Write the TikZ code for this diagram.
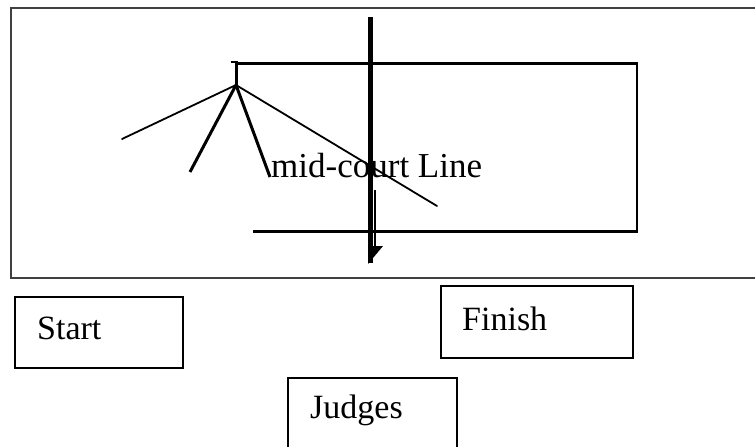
\documentclass[tikz,border=0pt]{standalone}
\usepackage{fontspec}
\setmainfont{Liberation Serif}
\begin{document}
\begin{tikzpicture}[x=1pt,y=-1pt,
  frame/.style={draw=black!75,line width=2pt},
  court/.style={draw=black,line width=2.8pt},
  thinline/.style={draw=black,line width=1.8pt,line cap=round},
  legline/.style={draw=black,line width=3pt},
  boxside/.style={draw=black,line width=1.8pt},
  lbl/.style={anchor=base west,inner sep=0pt,font=\fontsize{34}{40}\selectfont}]
\useasboundingbox (0,0) rectangle (755,447);
% outer frame (open on the right)
\draw[frame] (755,7.5) -- (11,7.5) -- (11,277.5) -- (755,277.5);
% court rectangle
\coordinate (ct) at (236,63.5);
\coordinate (cr) at (637,63.5);
\coordinate (cb) at (637,231.5);
\coordinate (cl) at (253,231.5);
\draw[court] (ct) -- (cr) -- (cb) -- (cl);
% post with apex
\coordinate (postTop) at (236,62);
\coordinate (apex) at (236,85);
\draw[line width=3pt] (postTop) -- (apex);
\draw[line width=2pt] (231,62) -- (238,62);
% legs
\coordinate (l1) at (122,139);
\coordinate (l2) at (190,172);
\coordinate (l3) at (270,177);
\coordinate (l4) at (437,206);
\draw[thinline] (apex) -- (l1);
\draw[legline] (apex) -- (l2);
\draw[legline] (apex) -- (l3);
\draw[thinline] (apex) -- (l4);
% mid-court label
\node[lbl,font=\fontsize{35}{40}\selectfont] (mid) at (271,177) {mid-court Line};
% thick vertical line
\coordinate (vTop) at (370.5,17);
\coordinate (vBot) at (370.5,263);
\draw[line width=5pt] (vTop) -- (vBot);
% small arrow
\coordinate (aTop) at (375,190);
\coordinate (aHead) at (375,247);
\draw[line width=2.2pt] (aTop) -- (aHead);
\fill[black] (370,246) -- (383,246) -- (368,264) -- cycle;
% boxes
\draw[boxside] (15,297) rectangle (183,368);
\node[lbl] (start) at (37,339) {Start};
\draw[boxside] (441,286) rectangle (633,358);
\node[lbl] (finish) at (462,330) {Finish};
\draw[boxside] (288,450) -- (288,378) -- (457,378) -- (457,450);
\node[lbl] (judges) at (310,418) {Judges};
\end{tikzpicture}
\end{document}
